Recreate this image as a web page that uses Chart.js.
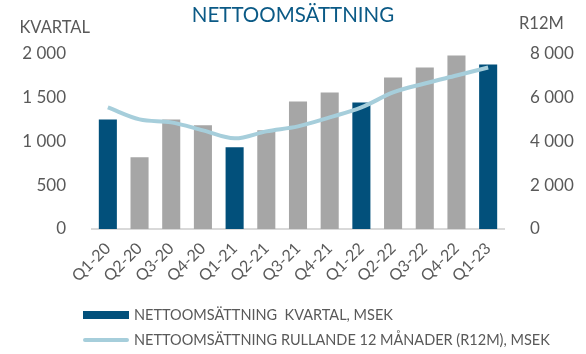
<!DOCTYPE html>
<html>
<head>
<meta charset="utf-8">
<script src="https://cdn.jsdelivr.net/npm/chart.js@4"></script>
<style>
  html, body { margin: 0; padding: 0; background: #fff; }
  #wrap { position: relative; width: 586px; height: 354px; font-family: Lato, sans-serif; }
  #legend { position: absolute; left: 83px; top: 302px; color: #595959; font-size: 14.5px; }
  .item { display: flex; align-items: center; height: 25px; }
  .swatch { width: 46px; margin-right: 5px; }
</style>
</head>
<body>
<div id="wrap">
  <canvas id="myChart" width="586" height="354"></canvas>
  <div id="legend"></div>
</div>
<script>
const quarters = ["Q1-20", "Q2-20", "Q3-20", "Q4-20", "Q1-21", "Q2-21", "Q3-21", "Q4-21", "Q1-22", "Q2-22", "Q3-22", "Q4-22", "Q1-23"];
const kvartal = [1250, 818, 1250, 1182, 932, 1125, 1455, 1557, 1443, 1727, 1841, 1977, 1875];
const r12m = [5545, 5000, 4864, 4500, 4136, 4454, 4682, 5090, 5545, 6227, 6636, 7000, 7364];
const leftTicks = [0, 500, 1000, 1500, 2000];
const rightTicks = [0, 2000, 4000, 6000, 8000];

const darkBlue = "#02507b";
const gray = "#a6a6a6";
const lightBlue = "#a6cedb";
const textGray = "#595959";

function fmt(v) {
  return String(v).replace(/\B(?=(\d{3})+(?!\d))/g, " ");
}

// Q1 bars are dark, the rest gray
const barColors = quarters.map(q => q.startsWith("Q1") ? darkBlue : gray);

// axis headings above the tick labels
const axisHeads = {
  id: "axisHeads",
  afterDraw(chart) {
    const ctx = chart.ctx;
    const area = chart.chartArea;
    ctx.save();
    ctx.fillStyle = textGray;
    ctx.font = "16.5px Lato";
    ctx.textBaseline = "middle";
    ctx.textAlign = "right";
    ctx.fillText("KVARTAL", area.left - 2, 28);
    ctx.textAlign = "left";
    ctx.fillText("R12M", area.right + 15, 24);
    ctx.restore();
  }
};

const chart = new Chart("myChart", {
  type: "bar",
  data: {
    labels: quarters,
    datasets: [
      {
        type: "line",
        label: "NETTOOMSÄTTNING RULLANDE 12 MÅNADER (R12M), MSEK",
        data: r12m,
        yAxisID: "y1",
        borderColor: lightBlue,
        backgroundColor: lightBlue,
        borderWidth: 4,
        pointRadius: 0,
        tension: 0.35,
        order: 1
      },
      {
        label: "NETTOOMSÄTTNING  KVARTAL, MSEK",
        data: kvartal,
        yAxisID: "y",
        backgroundColor: barColors,
        categoryPercentage: 1,
        barPercentage: 0.57,
        order: 2
      }
    ]
  },
  options: {
    responsive: false,
    animation: false,
    layout: { padding: { left: 0, right: 0, bottom: 73 } },
    plugins: {
      legend: { display: false },
      tooltip: { enabled: false },
      title: {
        display: true,
        text: "NETTOOMSÄTTNING",
        color: "#0b5a86",
        font: { family: "Lato", size: 20.5, weight: "normal" },
        padding: { top: 3, bottom: 26 }
      }
    },
    scales: {
      x: {
        grid: { display: false },
        border: { color: "#d9d9d9", width: 2 },
        ticks: {
          color: textGray,
          font: { family: "Lato", size: 16 },
          minRotation: 45,
          maxRotation: 45,
          padding: 2
        },
        afterFit(scale) { scale.height = 52; }
      },
      y: {
        position: "left",
        min: 0,
        max: 2000,
        grid: { display: false },
        border: { display: false },
        afterBuildTicks(scale) { scale.ticks = leftTicks.map(v => ({ value: v })); },
        ticks: {
          color: textGray,
          font: { family: "Lato", size: 17 },
          padding: 18,
          callback: v => fmt(v)
        },
        afterFit(scale) { scale.width = 92; }
      },
      y1: {
        position: "right",
        min: 0,
        max: 8000,
        grid: { display: false },
        border: { display: false },
        afterBuildTicks(scale) { scale.ticks = rightTicks.map(v => ({ value: v })); },
        ticks: {
          color: textGray,
          font: { family: "Lato", size: 17 },
          padding: 18,
          callback: v => fmt(v)
        },
        afterFit(scale) { scale.width = 82; }
      }
    }
  },
  plugins: [axisHeads]
});

// legend: bar first, then line
const legend = document.getElementById("legend");
[chart.data.datasets[1], chart.data.datasets[0]].forEach(ds => {
  const item = document.createElement("div");
  item.className = "item";
  const sw = document.createElement("div");
  sw.className = "swatch";
  if (ds.type === "line") {
    sw.style.height = "4px";
    sw.style.background = ds.borderColor;
    sw.style.borderRadius = "2px";
  } else {
    sw.style.height = "8px";
    sw.style.background = darkBlue;
  }
  const txt = document.createElement("span");
  txt.textContent = ds.label;
  txt.style.whiteSpace = "pre";
  item.appendChild(sw);
  item.appendChild(txt);
  legend.appendChild(item);
});
</script>
</body>
</html>
